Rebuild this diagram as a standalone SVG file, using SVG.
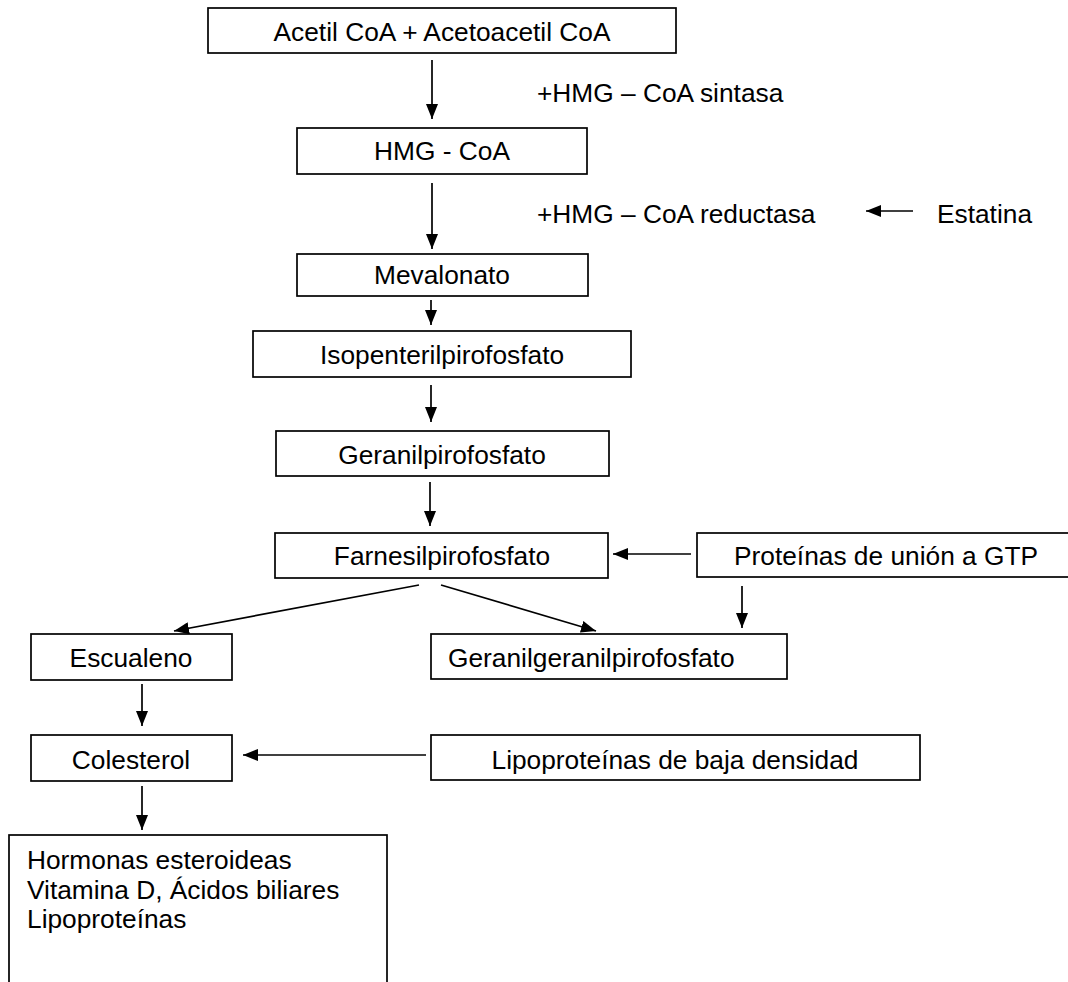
<svg xmlns="http://www.w3.org/2000/svg" width="1068" height="982" viewBox="0 0 1068 982">
<defs>
<marker id="ah" markerWidth="15" markerHeight="12" refX="15" refY="6" orient="auto" markerUnits="userSpaceOnUse"><path d="M0,0 L15,6 L0,12 z" fill="#000"/></marker>
<style>
.b{fill:#fff;stroke:#000;stroke-width:1.7}
text{font-family:"Liberation Sans",Arial,sans-serif;font-size:26.3px;fill:#000}
.c{text-anchor:middle}
line{stroke:#000;stroke-width:1.7;marker-end:url(#ah)}
</style>
</defs>
<rect width="1068" height="982" fill="#fff"/>
<g id="n1"><rect class="b" x="208" y="8" width="468" height="45"/><text class="c" x="442" y="41">Acetil CoA + Acetoacetil CoA</text></g>
<g id="lbl1"><text x="537" y="102">+HMG – CoA sintasa</text></g>
<g id="n2"><rect class="b" x="297" y="128" width="290" height="46"/><text class="c" x="442" y="160">HMG - CoA</text></g>
<g id="lbl2"><text x="537" y="223">+HMG – CoA reductasa</text></g>
<g id="estatina"><text x="937" y="223">Estatina</text></g>
<g id="n3"><rect class="b" x="297" y="254" width="291" height="42"/><text class="c" x="442" y="284">Mevalonato</text></g>
<g id="n4"><rect class="b" x="253" y="331" width="378" height="46"/><text class="c" x="442" y="364">Isopenterilpirofosfato</text></g>
<g id="n5"><rect class="b" x="276" y="431" width="333" height="45"/><text class="c" x="442" y="464">Geranilpirofosfato</text></g>
<g id="n6"><rect class="b" x="275" y="533" width="333" height="45"/><text class="c" x="442" y="565">Farnesilpirofosfato</text></g>
<g id="n7"><rect class="b" x="697" y="533" width="400" height="44"/><text x="734" y="565">Proteínas de unión a GTP</text></g>
<g id="n8"><rect class="b" x="31" y="634" width="201" height="46"/><text class="c" x="131" y="667">Escualeno</text></g>
<g id="n9"><rect class="b" x="431" y="634" width="356" height="45"/><text x="448" y="667">Geranilgeranilpirofosfato</text></g>
<g id="n10"><rect class="b" x="31" y="735" width="201" height="46"/><text class="c" x="131" y="769">Colesterol</text></g>
<g id="n11"><rect class="b" x="431" y="735" width="489" height="45"/><text class="c" x="675" y="769">Lipoproteínas de baja densidad</text></g>
<g id="n12"><rect class="b" x="9" y="835" width="378" height="160"/><text x="27" y="869">Hormonas esteroideas</text><text x="27" y="898.5">Vitamina D, Ácidos biliares</text><text x="27" y="928">Lipoproteínas</text></g>
<g id="connectors">
<line x1="432" y1="60" x2="432" y2="119"/>
<line x1="432" y1="183" x2="432" y2="249"/>
<line x1="431" y1="300" x2="431" y2="325"/>
<line x1="431" y1="385" x2="431" y2="422"/>
<line x1="430" y1="482" x2="430" y2="526"/>
<line x1="913" y1="211" x2="866" y2="211"/>
<line x1="691" y1="554" x2="613" y2="554"/>
<line x1="742" y1="586" x2="742" y2="628"/>
<line x1="419" y1="585" x2="174" y2="631"/>
<line x1="441" y1="585" x2="596" y2="631"/>
<line x1="142" y1="684" x2="142" y2="726"/>
<line x1="426" y1="755" x2="243" y2="755"/>
<line x1="142" y1="786" x2="142" y2="830"/>
</g>
</svg>
